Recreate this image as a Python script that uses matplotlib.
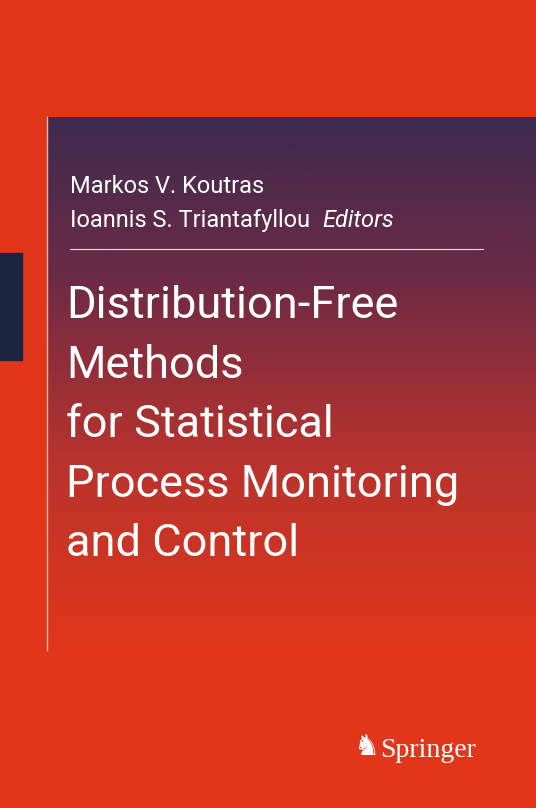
import numpy as np
import matplotlib.pyplot as plt
from matplotlib.colors import LinearSegmentedColormap

W, H = 536, 808
editors = ["Markos V. Koutras", "Ioannis S. Triantafyllou"]
role = "Editors"
title_lines = ["Distribution-Free", "Methods", "for Statistical",
               "Process Monitoring", "and Control"]
publisher = "Springer"

red = "#E1361A"
fig = plt.figure(figsize=(W / 100, H / 100), dpi=100)
fig.patch.set_facecolor(red)
ax = fig.add_axes([0, 0, 1, 1])
ax.set_xlim(0, W)
ax.set_ylim(H, 0)
ax.axis("off")
ax.add_patch(plt.Rectangle((0, 0), W, H, color=red, zorder=0))

# gradient panel
cmap = LinearSegmentedColormap.from_list("g", ["#3C2A50", "#6B2A45", "#B7332E", red])
grad = np.linspace(0, 1, 256).reshape(-1, 1) ** 0.9
ax.imshow(grad, cmap=cmap, extent=(47, W, 650, 117), aspect="auto", zorder=1)
ax.plot([47, 47], [117, 650], color="#F3B8A8", lw=1, zorder=2)

# dark tab on the left
ax.add_patch(plt.Rectangle((0, 253), 22, 107, color="#1C2540", zorder=2))

# separator
ax.plot([70, 483], [249, 249], color="#E8D8E0", lw=0.8, zorder=3)

font = "Roboto"
ax.text(70, 193, editors[0], color="white", fontsize=17, family=font, zorder=4)
t = ax.text(70, 227, editors[1], color="white", fontsize=17, family=font, zorder=4)
fig.canvas.draw()
x_end = ax.transData.inverted().transform(
    t.get_window_extent(fig.canvas.get_renderer()).get_points())[1, 0]
ax.text(x_end + 12, 227, role, color="white", fontsize=17, family=font,
        style="italic", zorder=4)

for i, line in enumerate(title_lines):
    ax.text(66, 318 + i * 59.5, line, color="white", fontsize=32.5, family=font, zorder=4)

ax.text(380, 757, publisher, color="white", fontsize=20, family="Liberation Serif", zorder=4)
ax.text(366, 755, "\u265E", color="white", fontsize=21, family="DejaVu Sans",
        ha="center", zorder=4)

fig.savefig("out.png", dpi=100, facecolor=red)
